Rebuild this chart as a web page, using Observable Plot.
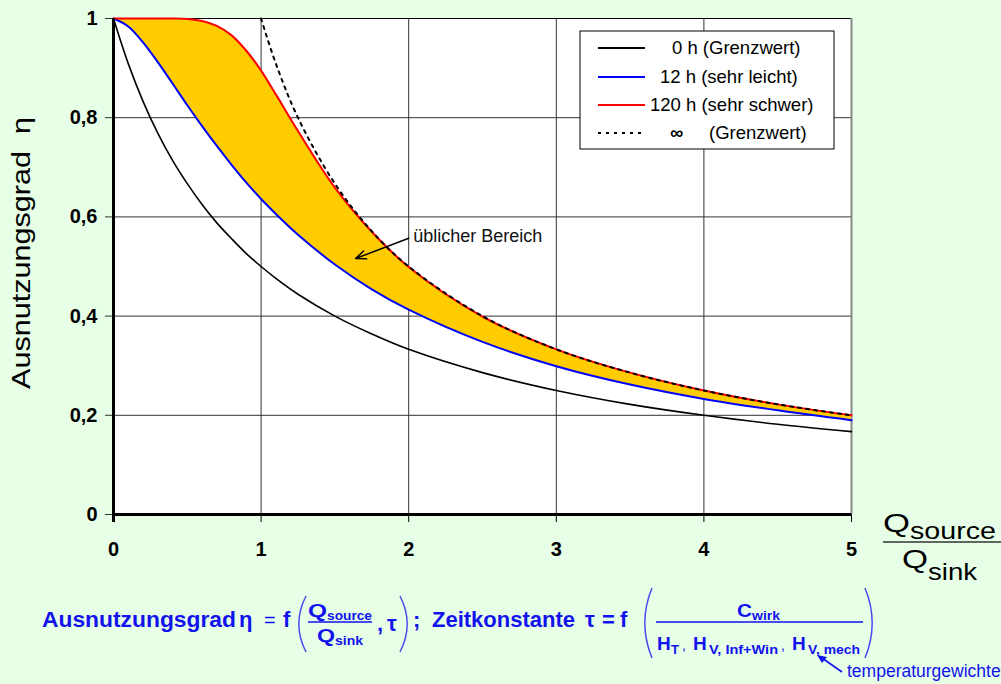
<!DOCTYPE html>
<html><head><meta charset="utf-8">
<script src="https://cdn.jsdelivr.net/npm/d3@7"></script>
<script src="https://cdn.jsdelivr.net/npm/@observablehq/plot@0.6"></script>
<style>
html,body{margin:0;padding:0;background:#e6ffe6;}
#chart{position:relative;width:1001px;height:684px;overflow:hidden;}
svg{display:block;}
</style></head><body><div id="chart"></div>
<script>
// x = Q_source / Q_sink
const xs      = [0,0.1,0.2,0.3,0.4,0.5,0.6,0.7,0.8,0.9,1,1.1,1.25,1.5,1.75,2,2.5,3,3.5,4,4.5,5];
const eta0h   = [1,0.909,0.833,0.769,0.714,0.667,0.625,0.588,0.556,0.526,0.5,0.476,0.444,0.4,0.364,0.333,0.286,0.25,0.222,0.2,0.182,0.167];
const eta12h  = [1,0.984,0.952,0.912,0.869,0.825,0.783,0.743,0.705,0.669,0.636,0.606,0.564,0.504,0.454,0.413,0.348,0.299,0.262,0.233,0.210,0.190];
const eta120h = [1,1,1,1,1,0.999,0.995,0.985,0.966,0.935,0.895,0.847,0.773,0.659,0.570,0.499,0.399,0.333,0.286,0.25,0.222,0.2];
const xsInf   = [1,1.1,1.25,1.5,1.75,2,2.5,3,3.5,4,4.5,5];
const etaInf  = [1,0.909,0.8,0.667,0.571,0.5,0.4,0.333,0.286,0.25,0.222,0.2];
const xTicks = [0,1,2,3,4,5];
const yTicks = [0,0.2,0.4,0.6,0.8,1];
const yTickLabels = ["0","0,2","0,4","0,6","0,8","1"];
const legendNumbers = ["0 h (Grenzwert)","12 h (sehr leicht)","120 h (sehr schwer)","∞"];
const legendColors = ["#000000","#0000ff","#ff0000","#000000"];
const annotation = "üblicher Bereich";

const rows = xs.map((x,i)=>({x, a:eta0h[i], b:eta12h[i], c:eta120h[i]}));
const infRows = xsInf.map((x,i)=>({x, y:etaInf[i]}));
const curve = "catmull-rom";
const FONT = "Arial, 'Liberation Sans', Helvetica, sans-serif";

const svg = Plot.plot({
  width:1001, height:684,
  marginLeft:113, marginRight:150, marginTop:18, marginBottom:170,
  style:{background:"transparent", fontFamily:FONT, overflow:"visible"},
  x:{domain:[0,5]}, y:{domain:[0,1]},
  marks:[
    Plot.frame({fill:"white", stroke:null}),
    Plot.ruleX([1,2,3,4], {stroke:"#333", strokeWidth:1}),
    Plot.ruleY([0.2,0.4,0.6,0.8], {stroke:"#333", strokeWidth:1}),
    Plot.ruleY([1], {stroke:"#000", strokeWidth:1}),
    Plot.ruleX([5], {stroke:"#888", strokeWidth:2}),
    Plot.areaY(rows, {x:"x", y1:"b", y2:"c", fill:"#ffcc00", curve}),
    Plot.line(rows, {x:"x", y:"a", stroke:legendColors[0], strokeWidth:1.6, curve}),
    Plot.line(rows, {x:"x", y:"b", stroke:legendColors[1], strokeWidth:2, curve}),
    Plot.line(rows, {x:"x", y:"c", stroke:legendColors[2], strokeWidth:2, curve}),
    Plot.line(infRows, {x:"x", y:"y", stroke:legendColors[3], strokeWidth:2, strokeDasharray:"3,5", curve}),
    Plot.arrow([{x1:2.0, y1:0.557, x2:1.64, y2:0.516}], {x1:"x1", y1:"y1", x2:"x2", y2:"y2", stroke:"black", strokeWidth:1.5, headLength:11, headAngle:45}),
    Plot.text([annotation], {x:2.03, y:0.550, text:d=>d, textAnchor:"start", fontSize:18, fill:"#111", lineAnchor:"bottom"}),
    Plot.axisX(xTicks, {tickSize:8, tickPadding:19, tickFormat:d=>String(d), fontSize:20, fontWeight:"bold", label:null, stroke:"black", fill:"black"}),
    Plot.axisY(yTicks, {tickSize:8, tickPadding:8, tickFormat:d=>yTickLabels[yTicks.indexOf(d)], fontSize:20, fontWeight:"bold", label:null, stroke:"#333", fill:"black"}),
    Plot.ruleX([0], {stroke:"black", strokeWidth:3, y1:-0.016, y2:1}),
    Plot.ruleY([0], {stroke:"black", strokeWidth:3})
  ]
});
document.getElementById("chart").appendChild(svg);

const g = d3.select(svg).append("g").attr("font-family", FONT).attr("text-anchor","start");
function T(x, y, s, o={}) {
  const e = g.append("text").attr("x",x).attr("y",y).text(s)
    .attr("font-size", o.size||20).attr("font-weight", o.weight||"normal")
    .attr("fill", o.fill||"black").attr("text-anchor", o.anchor||"start");
  if (o.len) e.attr("textLength", o.len).attr("lengthAdjust","spacingAndGlyphs");
  if (o.tr) e.attr("transform", o.tr);
  return e;
}
function L(x1,y1,x2,y2,stroke,w,dash){
  const e = g.append("line").attr("x1",x1).attr("y1",y1).attr("x2",x2).attr("y2",y2)
   .attr("stroke",stroke).attr("stroke-width",w);
  if (dash) e.attr("stroke-dasharray",dash);
  return e;
}

// y-axis title
T(0,0,"Ausnutzungsgrad  η",{size:25, anchor:"middle", len:272, tr:"translate(30,253) rotate(-90)"});

// x-axis title as a fraction
T(883,532,"Q",{size:25, len:27});
T(910,539,"source",{size:24, len:86});
L(883,542,1001,542,"#333",1.5);
T(902,568,"Q",{size:25, len:26});
T(928,580,"sink",{size:24, len:49});

// legend
g.append("rect").attr("x",580).attr("y",31).attr("width",254).attr("height",118)
  .attr("fill","white").attr("stroke","black").attr("stroke-width",1);
const rowsY = [48,77,105,133];
const textX = [672,660,650,670];
rowsY.forEach((yy,i)=>{
  L(598,yy,645,yy,legendColors[i], 2, i===3?"3,5":null);
  T(textX[i], yy+6, legendNumbers[i], {size:18.5, weight: i===3?"bold":"normal"});
});
T(709, 139, "(Grenzwert)", {size:18.5});

// formula line
const B = "#1212ee";
const fb = {size:22, weight:"bold", fill:B};
T(42,627,"Ausnutzungsgrad",{...fb, len:194});
T(239,627,"η",fb);
T(264,627,"=",{size:20, fill:B});
T(283,627,"f",fb);
function paren(x, y1, y2, left){
  const w = 9, mid=(y1+y2)/2;
  const d = left ? `M${x+w},${y1} Q${x-w*0.6},${mid} ${x+w},${y2}` : `M${x},${y1} Q${x+w*1.6},${mid} ${x},${y2}`;
  g.append("path").attr("d",d).attr("fill","none").attr("stroke","#4a4af0").attr("stroke-width",1.5);
}
paren(297,596,652,true);
T(308,617,"Q",{size:19, weight:"bold", fill:B, len:19});
T(327,620,"source",{size:13, weight:"bold", fill:B, len:45});
L(308,622,372,622,B,1.5);
T(317,642,"Q",{size:19, weight:"bold", fill:B, len:18});
T(335,645,"sink",{size:13, weight:"bold", fill:B, len:28});
T(377,631,",",fb);
T(387,631,"τ",fb);
paren(400,596,652,false);
T(413,627,";",fb);
T(432,627,"Zeitkonstante",{...fb, len:143});
T(585,627,"τ",fb);
T(602,627,"=",fb);
T(620,627,"f",fb);
paren(643,588,658,true);
T(737,617,"C",{size:19, weight:"bold", fill:B, len:15});
T(752,620,"wirk",{size:13, weight:"bold", fill:B, len:28});
L(656,622,863,622,B,1.5);
T(657,650,"H",{size:19, weight:"bold", fill:B});
T(671,654,"T",{size:13, weight:"bold", fill:B});
T(682,650,",",{size:14, fill:B});
T(693,650,"H",{size:19, weight:"bold", fill:B});
T(709,654,"V, Inf+Win",{size:13, weight:"bold", fill:B, len:69});
T(781,650,",",{size:14, fill:B});
T(792,650,"H",{size:19, weight:"bold", fill:B});
T(808,654,"V, mech",{size:13, weight:"bold", fill:B, len:52});
paren(865,588,658,false);
// arrow to "mech"
L(842,672,822,658,B,1.6);
g.append("path").attr("d","M817,655 L827,657 L822,663 Z").attr("fill",B);
T(847,677,"temperaturgewichtet",{size:17.5, fill:B});
</script></body></html>
